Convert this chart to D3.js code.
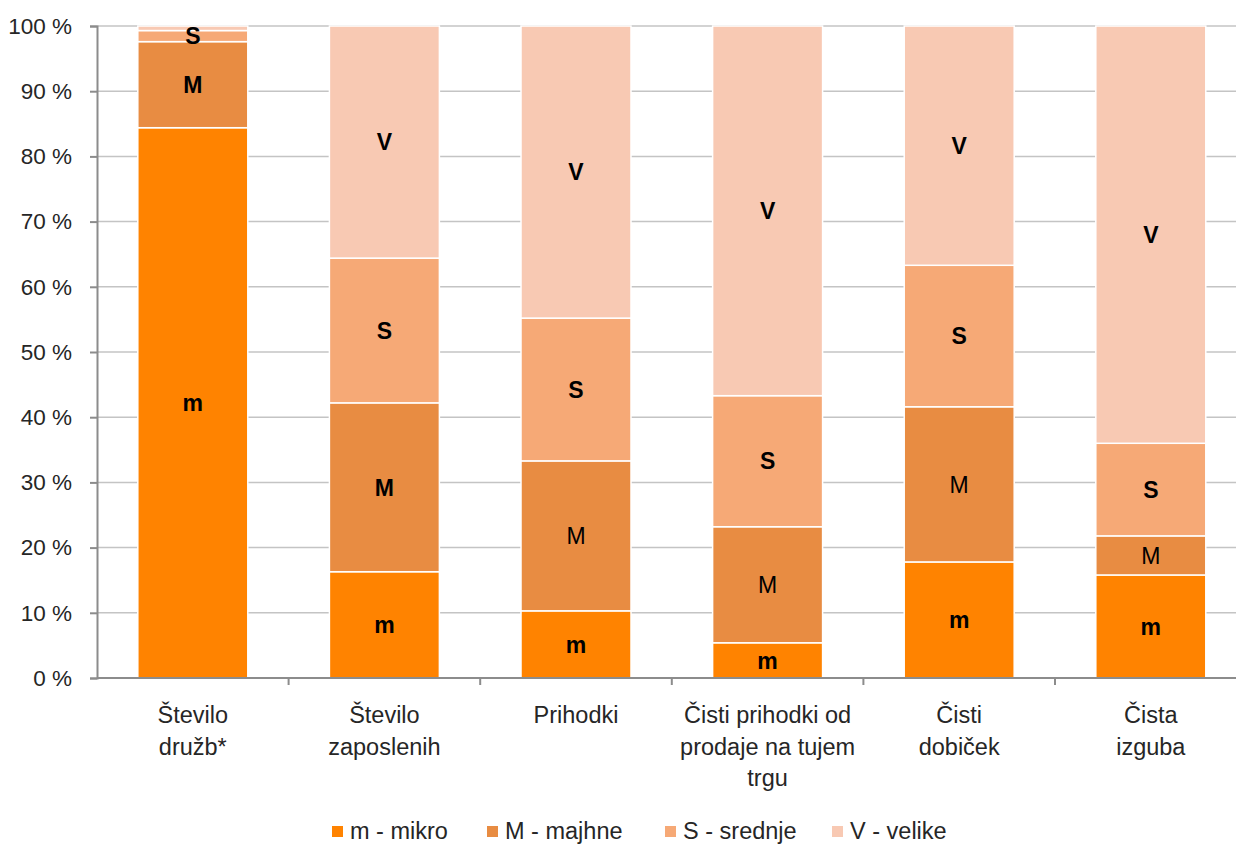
<!DOCTYPE html>
<html>
<head>
<meta charset="utf-8">
<script src="https://cdn.jsdelivr.net/npm/d3@7"></script>
<style>
  html, body { margin: 0; padding: 0; background: #fff; }
  svg { display: block; font-family: "Liberation Sans", Arial, sans-serif; }
</style>
</head>
<body>
<svg id="chart" width="1236" height="845"></svg>
<script>
// ---- data ----
const categories = [
  ["Število", "družb*"],
  ["Število", "zaposlenih"],
  ["Prihodki"],
  ["Čisti prihodki od", "prodaje na tujem", "trgu"],
  ["Čisti", "dobiček"],
  ["Čista", "izguba"]
];
const seriesNames = ["m - mikro", "M - majhne", "S - srednje", "V - velike"];
const seriesKeys = ["m", "M", "S", "V"];
const mikro   = [84.4, 16.3, 10.3,  5.4, 17.8, 15.8];
const majhne  = [13.2, 25.9, 23.0, 17.8, 23.8,  6.0];
const srednje = [ 1.7, 22.2, 21.9, 20.1, 21.7, 14.2];
const velike  = [ 0.7, 35.6, 44.8, 56.7, 36.7, 64.0];
const yTicks = [0, 10, 20, 30, 40, 50, 60, 70, 80, 90, 100];
// segment labels shown (null = no label) and which are bold
const segLabels = [
  ["m", "m", "m", "m", "m", "m"],
  ["M", "M", "M", "M", "M", "M"],
  ["S", "S", "S", "S", "S", "S"],
  [null, "V", "V", "V", "V", "V"]
];
const segBold = [
  [true, true, true, true, true, true],
  [true, true, false, false, false, false],
  [true, true, true, true, true, true],
  [true, true, true, true, true, true]
];

// ---- layout ----
const colors = ["#FF8300", "#E88C42", "#F6A976", "#F8C9B3"];
const svg = d3.select("#chart");
const x0 = 97, yBottom = 678, yTop = 26;
const step = 191.6;

const x = d3.scaleBand()
  .domain(d3.range(categories.length))
  .range([x0, x0 + step * categories.length])
  .paddingInner(0.426).paddingOuter(0.213);
const y = d3.scaleLinear().domain([0, 100]).range([yBottom, yTop]);

// gridlines
svg.append("g").selectAll("line").data(yTicks.filter(d => d > 0)).join("line")
  .attr("x1", x0).attr("x2", 1236)
  .attr("y1", d => y(d)).attr("y2", d => y(d))
  .attr("stroke", "#C4C4C4").attr("stroke-width", 1.5);

// stacked data
const values = [mikro, majhne, srednje, velike];
const rows = categories.map((c, i) => {
  const r = { i };
  seriesKeys.forEach((k, s) => r[k] = values[s][i]);
  return r;
});
const stacked = d3.stack().keys(seriesKeys)(rows);

const gBars = svg.append("g");
stacked.forEach((layer, s) => {
  gBars.append("g").selectAll("rect").data(layer).join("rect")
    .attr("x", d => x(d.data.i))
    .attr("width", x.bandwidth())
    .attr("y", d => y(d[1]))
    .attr("height", d => y(d[0]) - y(d[1]))
    .attr("fill", colors[s])
    .attr("stroke", "#fff").attr("stroke-width", 1.5);
});

// segment labels
stacked.forEach((layer, s) => {
  gBars.append("g").selectAll("text").data(layer.filter(d => segLabels[s][d.data.i]))
    .join("text")
    .attr("x", d => x(d.data.i) + x.bandwidth() / 2)
    .attr("y", d => (y(d[0]) + y(d[1])) / 2)
    .attr("dy", "0.36em")
    .attr("text-anchor", "middle")
    .attr("font-size", 23)
    .attr("font-weight", d => segBold[s][d.data.i] ? "bold" : "normal")
    .attr("fill", "#000")
    .text(d => segLabels[s][d.data.i]);
});

// y axis
const yAxis = d3.axisLeft(y).tickValues(yTicks).tickSize(7).tickPadding(18)
  .tickFormat(d => d + " %");
const gy = svg.append("g").attr("transform", `translate(${x0},0)`).call(yAxis);
gy.select(".domain").attr("stroke", "#8C8C8C").attr("stroke-width", 2);
gy.selectAll(".tick line").attr("stroke", "#8C8C8C").attr("stroke-width", 2);
gy.selectAll(".tick text").attr("font-size", 22.5).attr("fill", "#262626")
  .attr("font-family", '"Liberation Sans", Arial, sans-serif');

// x axis
const gx = svg.append("g").attr("transform", `translate(0,${yBottom})`);
gx.append("line").attr("x1", x0).attr("x2", 1236).attr("y1", 0).attr("y2", 0)
  .attr("stroke", "#8C8C8C").attr("stroke-width", 2);
gx.selectAll("line.sep").data(d3.range(1, categories.length + 1)).join("line")
  .attr("class", "sep")
  .attr("x1", i => x0 + step * i).attr("x2", i => x0 + step * i)
  .attr("y1", 0).attr("y2", 7)
  .attr("stroke", "#8C8C8C").attr("stroke-width", 2);
gx.selectAll("text.cat").data(categories).join("text")
  .attr("class", "cat")
  .attr("x", (d, i) => x(i) + x.bandwidth() / 2)
  .attr("y", 45)
  .attr("text-anchor", "middle")
  .attr("font-size", 23.5)
  .attr("fill", "#262626")
  .each(function (d) {
    d3.select(this).selectAll("tspan").data(d).join("tspan")
      .attr("x", d3.select(this).attr("x"))
      .attr("dy", (t, j) => j === 0 ? 0 : 31.5)
      .text(t => t);
  });

// legend
const legendX = [332, 487, 665, 832];
const lg = svg.append("g");
seriesNames.forEach((name, s) => {
  lg.append("rect").attr("x", legendX[s]).attr("y", 826)
    .attr("width", 11).attr("height", 11).attr("fill", colors[s]);
  lg.append("text").attr("x", legendX[s] + 18).attr("y", 839)
    .attr("font-size", 23.5).attr("fill", "#262626").text(name);
});
</script>
</body>
</html>
